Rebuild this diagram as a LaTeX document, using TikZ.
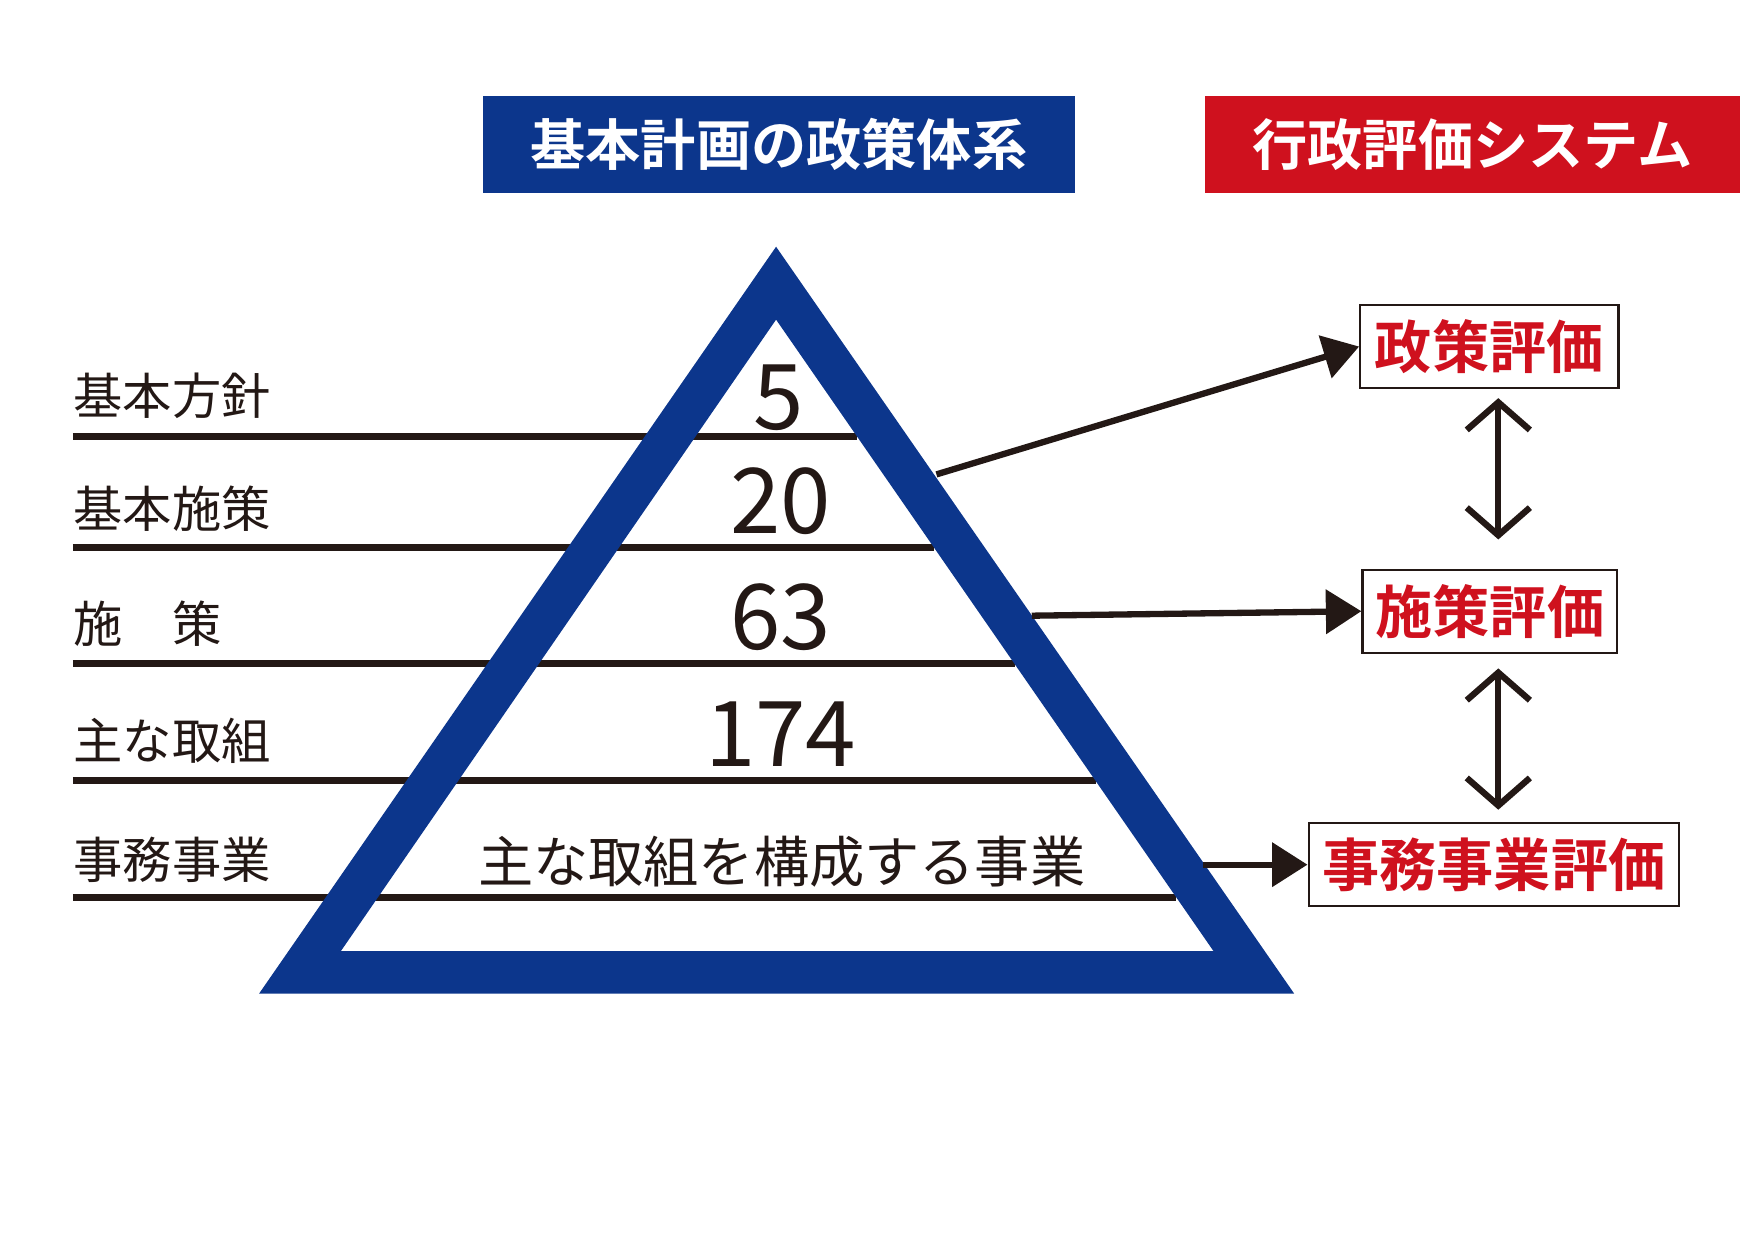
\documentclass[tikz,border=0pt]{standalone}
\usepackage{fontspec}
\setmainfont{Noto Sans CJK JP}
\newfontfamily\boldjp{Noto Sans CJK JP Bold}
\usetikzlibrary{arrows.meta, positioning}
\definecolor{navy}{RGB}{12,54,140}
\definecolor{jred}{RGB}{207,17,30}
\definecolor{ink}{RGB}{35,24,21}

\begin{document}
\begin{tikzpicture}[x=0.01cm, y=-0.01cm,
        title/.style={inner sep=0pt, minimum height=0.86cm, text=white, font=\boldjp\fontsize{14}{14}\selectfont},
        level/.style={anchor=base west, inner sep=0pt, font=\fontsize{12.5}{12.5}\selectfont, text=ink},
        count/.style={inner sep=0pt, font=\fontsize{23}{23}\selectfont, text=ink},
        evalbox/.style={draw=ink, line width=0.6pt, fill=white, inner sep=0pt, minimum height=0.74cm, text=jred, font=\boldjp\fontsize{14.5}{14.5}\selectfont},
        rule/.style={ink, line width=1.8pt},
        link/.style={ink, line width=1.6pt, -{Triangle[length=9pt, width=11pt]}},
        both/.style={ink, line width=1.6pt, {Straight Barb[length=7pt, width=16pt]}-{Straight Barb[length=7pt, width=16pt]}}
    ]
        \useasboundingbox (0,0) rectangle (1564,1106);

        % Titles
        \node[title, fill=navy, minimum width=5.27cm] (policy) at (694.5,129) {基本計画の政策体系};
        \node[title, fill=jred, minimum width=4.76cm] (system) at (1313,129) {行政評価システム};

        % Levels
        \foreach \y/\x in {389/764, 488/833, 592/905, 696/977, 800/1049}
            \draw[rule] (65,\y) -- (\x,\y);
        \node[level] (l1) at (65,370) {基本方針};
        \node[level] (l2) at (65,470) {基本施策};
        \node[level] (l3) at (65,573) {施\hspace{1em}策};
        \node[level] (l4) at (65,677) {主な取組};
        \node[level] (l5) at (65,783) {事務事業};

        % Pyramid
        \fill[navy, even odd rule] (692,220) -- (1154,886) -- (231,886) -- cycle
            (692,285) -- (1082,848) -- (304,848) -- cycle;

        \node[count] (n1) at (694,355) {5};
        \node[count] (n2) at (696,447) {20};
        \node[count] (n3) at (696,550) {63};
        \node[count] (n4) at (696,655) {174};
        \node[level, anchor=center, font=\fontsize{14}{14}\selectfont] (n5) at (697,768) {主な取組を構成する事業};

        % Evaluation boxes
        \node[evalbox, minimum width=2.30cm] (e1) at (1328,309) {政策評価};
        \node[evalbox, minimum width=2.27cm] (e2) at (1328.5,545) {施策評価};
        \node[evalbox, minimum width=3.30cm] (e3) at (1332,771) {事務事業評価};

        \coordinate (p1) at (835,423);
        \coordinate (p2) at (920,549);
        \coordinate (p3) at (1073,771);
        \draw[link] (p1) -- (e1.west);
        \draw[link] (p2) -- (e2.west);
        \draw[link] (p3) -- (e3.west);

        \coordinate (a1) at (1336,355);
        \coordinate (a2) at (1336,481);
        \coordinate (a3) at (1336,596);
        \coordinate (a4) at (1336,722);
        \draw[both] (a1) -- (a2);
        \draw[both] (a3) -- (a4);
    \end{tikzpicture}
\end{document}
